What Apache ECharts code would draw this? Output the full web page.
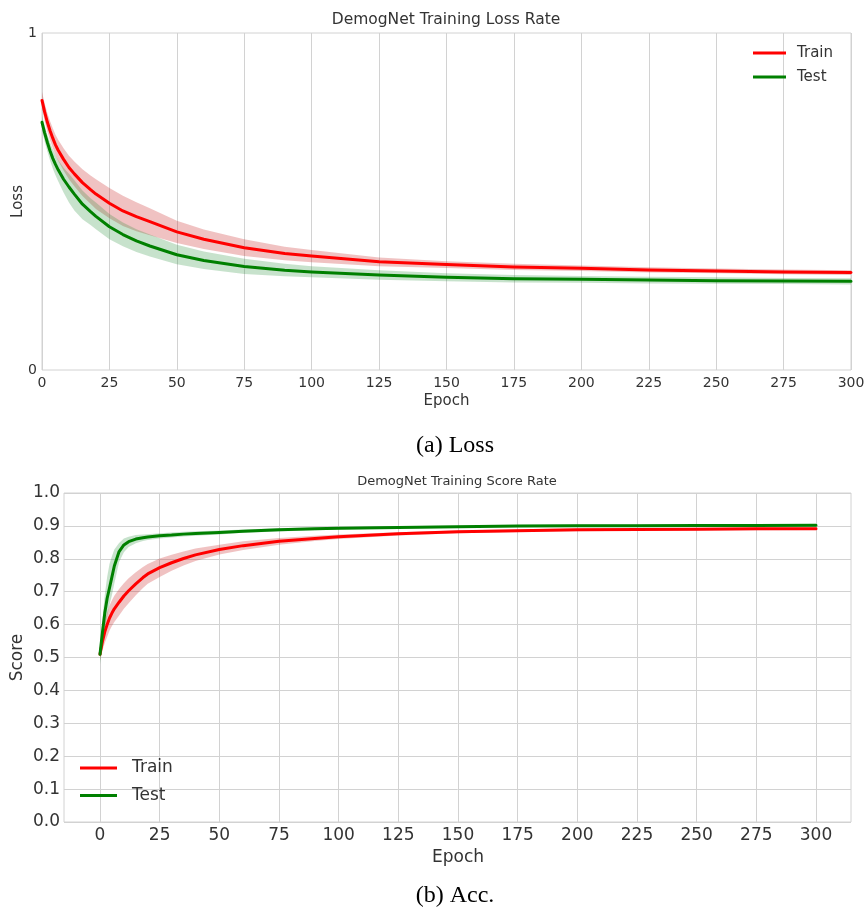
<!DOCTYPE html>
<html>
<head>
<meta charset="utf-8">
<script src="https://cdn.jsdelivr.net/npm/echarts@6/dist/echarts.min.js"></script>
<style>
html,body{margin:0;padding:0;background:#fff;}
#chart{width:867px;height:909px;}
</style>
</head>
<body>
<div id="chart"></div>
<script>
const epochs = [0,1,2,3,4,5,6,8,10,12,15,18,20,25,30,35,40,50,60,75,90,100,125,150,175,200,225,250,275,300];

const lossTrainMean = [0.800,0.765,0.735,0.710,0.688,0.668,0.652,0.625,0.601,0.582,0.556,0.535,0.522,0.495,0.472,0.455,0.440,0.410,0.388,0.363,0.346,0.338,0.321,0.313,0.306,0.302,0.297,0.294,0.291,0.289];
const lossTrainHigh = [0.825,0.791,0.762,0.738,0.717,0.698,0.683,0.658,0.636,0.619,0.596,0.577,0.566,0.540,0.517,0.498,0.480,0.443,0.417,0.388,0.366,0.356,0.334,0.323,0.315,0.310,0.305,0.301,0.298,0.296];
const lossTrainLow  = [0.775,0.739,0.708,0.682,0.659,0.638,0.621,0.592,0.566,0.545,0.516,0.493,0.478,0.450,0.427,0.412,0.400,0.377,0.359,0.338,0.326,0.320,0.308,0.303,0.297,0.294,0.289,0.287,0.284,0.282];

const lossTestMean = [0.735,0.703,0.675,0.650,0.628,0.610,0.594,0.566,0.543,0.522,0.492,0.470,0.456,0.425,0.402,0.383,0.368,0.342,0.325,0.307,0.296,0.291,0.282,0.275,0.271,0.269,0.267,0.265,0.264,0.263];
const lossTestHigh = [0.755,0.725,0.698,0.675,0.655,0.638,0.623,0.600,0.582,0.563,0.533,0.510,0.497,0.463,0.438,0.418,0.402,0.372,0.352,0.330,0.315,0.308,0.296,0.287,0.282,0.279,0.277,0.275,0.273,0.272];
const lossTestLow  = [0.712,0.678,0.648,0.622,0.598,0.578,0.560,0.527,0.497,0.473,0.447,0.430,0.418,0.388,0.367,0.350,0.337,0.314,0.300,0.285,0.278,0.275,0.268,0.263,0.260,0.259,0.257,0.256,0.255,0.254];

const scoreTrainMean = [0.510,0.548,0.578,0.600,0.620,0.635,0.648,0.668,0.687,0.703,0.724,0.743,0.754,0.773,0.788,0.801,0.812,0.828,0.840,0.853,0.862,0.867,0.876,0.882,0.8855,0.888,0.889,0.890,0.891,0.8915];
const scoreTrainHigh = [0.528,0.575,0.612,0.637,0.658,0.674,0.688,0.708,0.726,0.741,0.759,0.775,0.784,0.801,0.812,0.822,0.831,0.843,0.853,0.863,0.870,0.874,0.881,0.886,0.8895,0.892,0.893,0.894,0.895,0.8955];
const scoreTrainLow  = [0.492,0.521,0.544,0.563,0.582,0.596,0.608,0.628,0.648,0.665,0.689,0.711,0.724,0.745,0.764,0.780,0.793,0.813,0.827,0.843,0.854,0.860,0.871,0.878,0.8815,0.884,0.885,0.886,0.887,0.8875];

const scoreTestMean = [0.510,0.575,0.635,0.680,0.712,0.745,0.778,0.822,0.842,0.852,0.860,0.864,0.866,0.870,0.872,0.875,0.877,0.880,0.884,0.888,0.891,0.8925,0.8955,0.8975,0.8995,0.9005,0.9008,0.901,0.9015,0.9018];
const scoreTestHigh = [0.530,0.615,0.690,0.745,0.785,0.808,0.828,0.848,0.862,0.867,0.872,0.874,0.875,0.878,0.880,0.882,0.884,0.886,0.889,0.893,0.895,0.896,0.899,0.901,0.903,0.904,0.904,0.904,0.905,0.905];
const scoreTestLow  = [0.480,0.530,0.585,0.625,0.660,0.690,0.725,0.790,0.820,0.836,0.847,0.854,0.857,0.862,0.865,0.868,0.870,0.874,0.879,0.883,0.887,0.889,0.892,0.894,0.896,0.897,0.8975,0.898,0.898,0.8985];

const lossYTicks = [0, 1];
const seriesNames = ['Train', 'Test'];

const FONT = 'DejaVu Sans';
const TXT = '#333333';
const GRID_C = '#d2d2d2';
const RED = '#ff0000';
const GREEN = '#008000';
const RED_BAND = 'rgba(200,30,30,0.27)';
const GREEN_BAND = 'rgba(30,140,50,0.25)';

function pairs(arr) { return epochs.map((e, i) => [e, arr[i]]); }

function band(name, xi, yi, low, high, color) {
  return {
    type: 'custom', name: name, xAxisIndex: xi, yAxisIndex: yi,
    coordinateSystem: 'cartesian2d', silent: true, z: 1,
    data: epochs.map((e, i) => [e, low[i], high[i]]),
    encode: { x: 0, y: [1, 2] },
    renderItem: function (params, api) {
      if (params.dataIndexInside !== 0) return null;
      const n = params.dataInsideLength;
      const pts = [];
      for (let i = 0; i < n; i++) pts.push(api.coord([api.value(0, i), api.value(2, i)]));
      for (let i = n - 1; i >= 0; i--) pts.push(api.coord([api.value(0, i), api.value(1, i)]));
      return { type: 'polygon', shape: { points: pts }, style: { fill: color, stroke: null } };
    }
  };
}

function line(name, xi, yi, arr, color) {
  return {
    type: 'line', name: name, xAxisIndex: xi, yAxisIndex: yi,
    data: pairs(arr), symbol: 'none', z: 3, silent: true,
    smooth: false,
    lineStyle: { color: color, width: 3, join: 'round', cap: 'round' }, itemStyle: { color: color },
    animation: false
  };
}

const chart = echarts.init(document.getElementById('chart'), null, { renderer: 'canvas' });

const option = {
  animation: false,
  backgroundColor: '#ffffff',
  textStyle: { fontFamily: FONT, color: TXT },
  title: [
    { text: 'DemogNet Training Loss Rate', left: 446, top: 12, padding: 0, textAlign: 'center',
      textStyle: { fontFamily: FONT, fontSize: 15.5, fontWeight: 'normal', color: TXT } },
    { text: 'DemogNet Training Score Rate', left: 457, top: 475, padding: 0, textAlign: 'center',
      textStyle: { fontFamily: FONT, fontSize: 13, fontWeight: 'normal', color: TXT } }
  ],
  legend: [
    { orient: 'vertical', left: 753, top: 44, padding: 0, itemWidth: 33, itemHeight: 3, itemGap: 6,
      icon: 'rect', data: seriesNames,
      textStyle: { fontFamily: FONT, fontSize: 15, color: TXT, lineHeight: 18, padding: [0, 0, 0, 6] } },
    { orient: 'vertical', left: 80, top: 758, padding: 0, itemWidth: 37, itemHeight: 3, itemGap: 7.4,
      icon: 'rect', data: seriesNames,
      textStyle: { fontFamily: FONT, fontSize: 17, color: TXT, lineHeight: 20, padding: [0, 0, 0, 10] } }
  ],
  grid: [
    { left: 42, top: 33, width: 809, height: 337, show: true, borderColor: GRID_C, borderWidth: 1,
      containLabel: false, outerBoundsMode: 'none' },
    { left: 64, top: 493, width: 787, height: 329, show: true, borderColor: GRID_C, borderWidth: 1,
      containLabel: false, outerBoundsMode: 'none' },
    { left: 100, top: 493, width: 716, height: 329, show: false, containLabel: false, outerBoundsMode: 'none' }
  ],
  xAxis: [
    { type: 'value', gridIndex: 0, min: 0, max: 300, interval: 25,
      axisLine: { show: false }, axisTick: { show: false },
      axisLabel: { fontFamily: FONT, fontSize: 14, color: TXT, margin: 6 },
      splitLine: { show: true, lineStyle: { color: GRID_C, width: 1 } },
      name: 'Epoch', nameLocation: 'middle', nameGap: 24,
      nameTextStyle: { fontFamily: FONT, fontSize: 15, color: TXT } },
    { type: 'value', gridIndex: 1, min: 0, max: 1, show: false },
    { type: 'value', gridIndex: 2, min: 0, max: 300, interval: 25,
      axisLine: { show: false }, axisTick: { show: false },
      axisLabel: { fontFamily: FONT, fontSize: 17, color: TXT, margin: 5 },
      splitLine: { show: true, lineStyle: { color: GRID_C, width: 1 } },
      name: 'Epoch', nameLocation: 'middle', nameGap: 27,
      nameTextStyle: { fontFamily: FONT, fontSize: 17, color: TXT } }
  ],
  yAxis: [
    { type: 'value', gridIndex: 0, min: 0, max: 1, interval: 1,
      axisLine: { show: false }, axisTick: { show: false },
      axisLabel: { fontFamily: FONT, fontSize: 14, color: TXT, margin: 5,
        formatter: v => (lossYTicks.indexOf(v) >= 0 ? String(v) : '') },
      splitLine: { show: false },
      name: 'Loss', nameLocation: 'middle', nameRotate: 90, nameGap: 16, nameMoveOverlap: false,
      nameTextStyle: { fontFamily: FONT, fontSize: 15, color: TXT } },
    { type: 'value', gridIndex: 1, min: 0, max: 1, interval: 0.1,
      axisLine: { show: false }, axisTick: { show: false },
      axisLabel: { fontFamily: FONT, fontSize: 17, color: TXT, margin: 4, formatter: v => v.toFixed(1) },
      splitLine: { show: true, lineStyle: { color: GRID_C, width: 1 } },
      name: 'Score', nameLocation: 'middle', nameRotate: 90, nameGap: 37.5, nameMoveOverlap: false,
      nameTextStyle: { fontFamily: FONT, fontSize: 17, color: TXT } },
    { type: 'value', gridIndex: 2, min: 0, max: 1, show: false }
  ],
  graphic: [
    { type: 'text', x: 455, y: 446, style: { text: '(a) Loss', font: '24px "Liberation Serif", serif', fill: '#000', align: 'center', verticalAlign: 'middle' } },
    { type: 'text', x: 455, y: 896, style: { text: '(b) Acc.', font: '24px "Liberation Serif", serif', fill: '#000', align: 'center', verticalAlign: 'middle' } }
  ],
  series: [
    band('Train band', 0, 0, lossTrainLow, lossTrainHigh, RED_BAND),
    band('Test band', 0, 0, lossTestLow, lossTestHigh, GREEN_BAND),
    line('Train', 0, 0, lossTrainMean, RED),
    line('Test', 0, 0, lossTestMean, GREEN),
    band('Train band2', 2, 2, scoreTrainLow, scoreTrainHigh, RED_BAND),
    band('Test band2', 2, 2, scoreTestLow, scoreTestHigh, GREEN_BAND),
    line('Train', 2, 2, scoreTrainMean, RED),
    line('Test', 2, 2, scoreTestMean, GREEN)
  ]
};
chart.setOption(option);
</script>
</body>
</html>
